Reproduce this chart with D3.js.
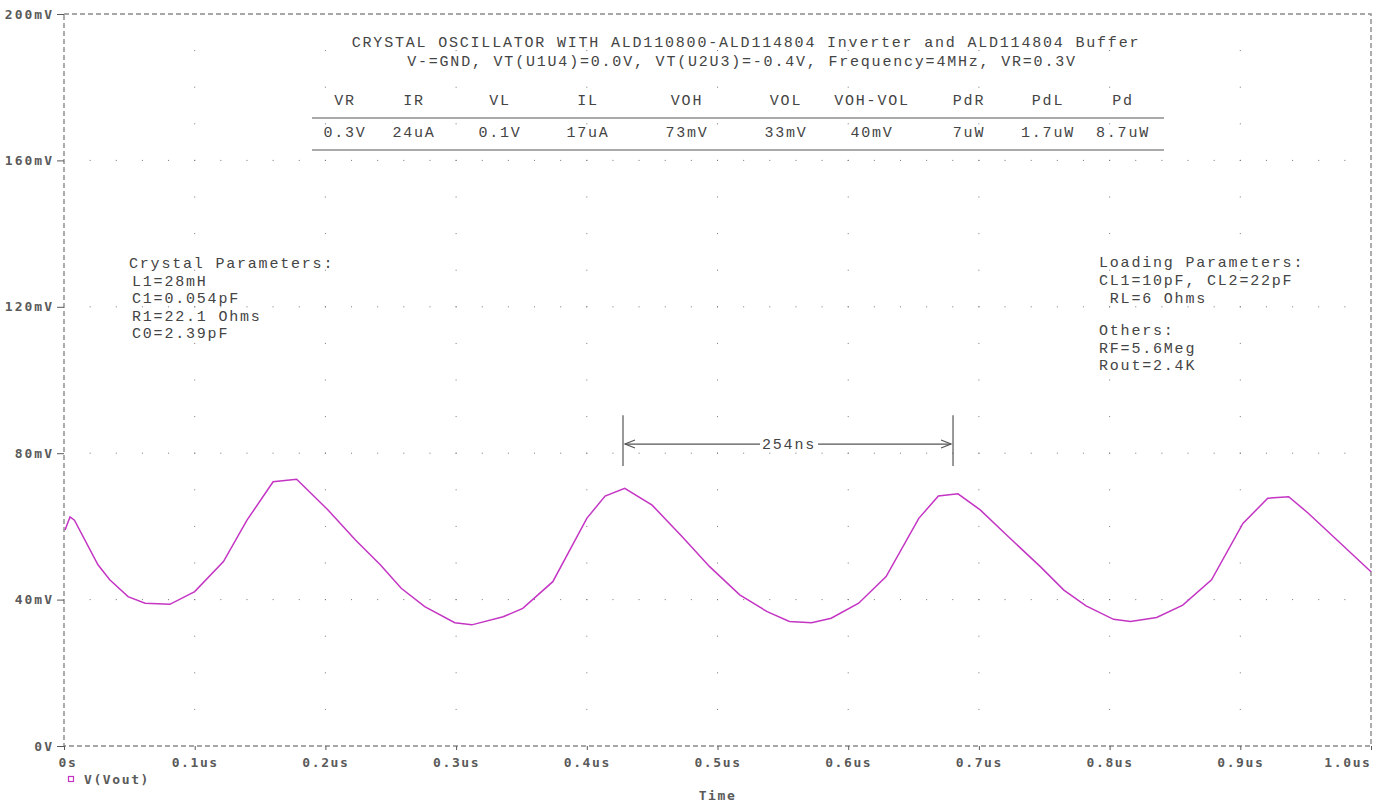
<!DOCTYPE html>
<html>
<head>
<meta charset="utf-8">
<script src="https://cdn.jsdelivr.net/npm/d3@7"></script>
<style>
  html, body { margin: 0; padding: 0; background: #fff; }
  svg { display: block; }
</style>
</head>
<body>
<div id="chart"></div>
<script>
// waveform V(Vout): time in us, voltage in mV
const timeUs = [0.0008, 0.0046, 0.008, 0.026, 0.035, 0.049, 0.062, 0.081, 0.100, 0.122, 0.140, 0.160, 0.178,
  0.202, 0.223, 0.242, 0.258, 0.276, 0.299, 0.312, 0.336, 0.351, 0.374, 0.400, 0.414, 0.429, 0.450, 0.473,
  0.494, 0.517, 0.538, 0.555, 0.572, 0.587, 0.608, 0.629, 0.654, 0.669, 0.684, 0.701, 0.721, 0.747, 0.765,
  0.782, 0.803, 0.816, 0.836, 0.856, 0.878, 0.902, 0.921, 0.937, 0.952, 0.967, 1.0];
const voutMv = [59.0, 62.6, 61.7, 49.5, 45.4, 40.8, 39.0, 38.7, 42.2, 50.4, 61.7, 72.2, 72.9,
  64.5, 56.3, 49.5, 43.1, 38.1, 33.7, 33.1, 35.3, 37.6, 44.9, 62.2, 68.3, 70.4, 65.8, 57.2,
  49.0, 41.3, 36.7, 34.0, 33.7, 34.9, 39.0, 46.3, 62.2, 68.3, 68.9, 64.5, 57.7, 49.0, 42.6,
  38.3, 34.6, 34.0, 35.1, 38.5, 45.4, 60.8, 67.7, 68.1, 63.6, 58.6, 47.6];

const yTicks = [0, 40, 80, 120, 160, 200];
const yTickLabels = ['0V', '40mV', '80mV', '120mV', '160mV', '200mV'];
const xTicks = [0, 0.1, 0.2, 0.3, 0.4, 0.5, 0.6, 0.7, 0.8, 0.9, 1.0];
const xTickLabels = ['0s', '0.1us', '0.2us', '0.3us', '0.4us', '0.5us', '0.6us', '0.7us', '0.8us', '0.9us', '1.0us'];

const titleLines = [
  'CRYSTAL OSCILLATOR WITH ALD110800-ALD114804 Inverter and ALD114804 Buffer',
  'V-=GND, VT(U1U4)=0.0V, VT(U2U3)=-0.4V, Frequency=4MHz, VR=0.3V'
];
const tableHeaders = ['VR', 'IR', 'VL', 'IL', 'VOH', 'VOL', 'VOH-VOL', 'PdR', 'PdL', 'Pd'];
const tableValues = ['0.3V', '24uA', '0.1V', '17uA', '73mV', '33mV', '40mV', '7uW', '1.7uW', '8.7uW'];
const crystalLines = ['Crystal Parameters:', 'L1=28mH', 'C1=0.054pF', 'R1=22.1 Ohms', 'C0=2.39pF'];
const loadingLines = ['Loading Parameters:', 'CL1=10pF, CL2=22pF', ' RL=6 Ohms'];
const otherLines = ['Others:', 'RF=5.6Meg', 'Rout=2.4K'];

// period cursor pair (us) and label
const cursorUs = [0.4277, 0.6802];
const cursorLabel = '254ns';

const W = 1385, H = 803;
const margin = { top: 14, right: 14, bottom: 57, left: 64 };

const svg = d3.select('#chart').append('svg')
  .attr('width', W).attr('height', H);

const x = d3.scaleLinear().domain([0, 1]).range([margin.left, W - margin.right]);
const y = d3.scaleLinear().domain([0, 200]).range([H - margin.bottom, margin.top]);

const gridColor = '#777';
const textColor = '#444';
const axisColor = '#5a5a5a';
const lineColor = '#c435c4';

// dotted grid: vertical rows at major x, horizontal rows at major y
const grid = svg.append('g');
const minorY = d3.range(0, 201, 10);
const minorX = d3.range(0, 1.0001, 0.02);
xTicks.slice(1, -1).forEach(t => {
  minorY.slice(1, -1).forEach(v => {
    grid.append('rect').attr('x', x(t) - 0.5).attr('y', y(v) - 0.5)
      .attr('width', 1).attr('height', 1).attr('fill', gridColor);
  });
});
yTicks.slice(1, -1).forEach(v => {
  minorX.slice(1, -1).forEach(t => {
    grid.append('rect').attr('x', x(t) - 0.5).attr('y', y(v) - 0.5)
      .attr('width', 1).attr('height', 1).attr('fill', gridColor);
  });
});

// dashed frame
svg.append('rect')
  .attr('x', x(0)).attr('y', y(200))
  .attr('width', x(1) - x(0)).attr('height', y(0) - y(200))
  .attr('fill', 'none').attr('stroke', '#8a8a8a').attr('stroke-width', 1.4)
  .attr('stroke-dasharray', '5,3');

// axes
const axisFont = "'DejaVu Sans Mono', monospace";
const yAxis = svg.append('g')
  .attr('transform', `translate(${x(0)},0)`)
  .call(d3.axisLeft(y).tickValues(yTicks).tickSize(7).tickPadding(3)
    .tickFormat((d, i) => yTickLabels[i]));
yAxis.select('.domain').remove();
yAxis.selectAll('.tick line').attr('stroke', axisColor);
yAxis.selectAll('.tick text')
  .attr('font-family', axisFont).attr('font-size', 13).attr('font-weight', 'bold')
  .attr('fill', axisColor).attr('letter-spacing', 2);

const xAxis = svg.append('g')
  .attr('transform', `translate(0,${y(0)})`)
  .call(d3.axisBottom(x).tickValues(xTicks).tickSize(4).tickPadding(8)
    .tickFormat((d, i) => xTickLabels[i]));
xAxis.select('.domain').remove();
xAxis.selectAll('.tick line').attr('stroke', axisColor);
xAxis.selectAll('.tick text')
  .attr('font-family', axisFont).attr('font-size', 13).attr('font-weight', 'bold')
  .attr('fill', axisColor).attr('letter-spacing', 1.6)
  .attr('text-anchor', (d, i) => i === 0 ? 'start' : (i === xTicks.length - 1 ? 'end' : 'middle'))
  .attr('dx', (d, i) => i === 0 ? -6 : 0);

svg.append('text')
  .attr('x', (x(0) + x(1)) / 2).attr('y', 800)
  .attr('text-anchor', 'middle')
  .attr('font-family', axisFont).attr('font-size', 13).attr('font-weight', 'bold')
  .attr('fill', axisColor).attr('letter-spacing', 1.6)
  .text('Time');

// legend
svg.append('rect')
  .attr('x', 68.5).attr('y', 776.5).attr('width', 5).attr('height', 5)
  .attr('fill', 'none').attr('stroke', lineColor).attr('stroke-width', 1.2);
svg.append('text')
  .attr('x', 84).attr('y', 784)
  .attr('font-family', axisFont).attr('font-size', 13).attr('font-weight', 'bold')
  .attr('fill', axisColor).attr('letter-spacing', 1.6)
  .text('V(Vout)');

// waveform
const line = d3.line()
  .x((d, i) => x(timeUs[i]))
  .y(d => y(d));
svg.append('path')
  .datum(voutMv)
  .attr('d', line)
  .attr('fill', 'none')
  .attr('stroke', lineColor)
  .attr('stroke-width', 1.5);

// annotation text
const noteFont = "'Liberation Mono', 'DejaVu Sans Mono', monospace";
function note(str, px, py, anchor) {
  return svg.append('text')
    .attr('x', px).attr('y', py)
    .attr('text-anchor', anchor || 'start')
    .attr('font-family', noteFont).attr('font-size', 15)
    .attr('letter-spacing', 1.8)
    .attr('fill', textColor)
    .style('white-space', 'pre')
    .text(str);
}

note(titleLines[0], 746, 47, 'middle');
note(titleLines[1], 742, 66, 'middle');

// table
const colCenters = [345, 414, 500, 588, 687, 786, 872, 969, 1048, 1123];
tableHeaders.forEach((h, i) => note(h, colCenters[i], 105, 'middle'));
tableValues.forEach((v, i) => note(v, colCenters[i], 137, 'middle'));
[118, 150].forEach(ly => {
  svg.append('line')
    .attr('x1', 312).attr('x2', 1164).attr('y1', ly).attr('y2', ly)
    .attr('stroke', '#555').attr('stroke-width', 1.2);
});

crystalLines.forEach((s, i) => note(s, i === 0 ? 129 : 132, 268 + i * 17.5));
loadingLines.forEach((s, i) => note(s, 1099, 267 + i * 18));
otherLines.forEach((s, i) => note(s, 1099, 335 + i * 17.5));

// period measurement
const mTop = y(90.4), mBot = y(76.5), mArrow = y(82.5);
const cx0 = x(cursorUs[0]), cx1 = x(cursorUs[1]);
const meas = svg.append('g').attr('stroke', '#555').attr('stroke-width', 1.2).attr('fill', 'none');
meas.append('line').attr('x1', cx0).attr('x2', cx0).attr('y1', mTop).attr('y2', mBot);
meas.append('line').attr('x1', cx1).attr('x2', cx1).attr('y1', mTop).attr('y2', mBot);
const midX = (cx0 + cx1) / 2;
meas.append('line').attr('x1', cx0 + 2).attr('x2', midX - 28).attr('y1', mArrow).attr('y2', mArrow);
meas.append('line').attr('x1', midX + 30).attr('x2', cx1 - 2).attr('y1', mArrow).attr('y2', mArrow);
meas.append('path').attr('d', `M${cx0 + 12},${mArrow - 4}L${cx0 + 2},${mArrow}L${cx0 + 12},${mArrow + 4}`);
meas.append('path').attr('d', `M${cx1 - 12},${mArrow - 4}L${cx1 - 2},${mArrow}L${cx1 - 12},${mArrow + 4}`);
note(cursorLabel, midX + 1, mArrow + 5, 'middle');
</script>
</body>
</html>
